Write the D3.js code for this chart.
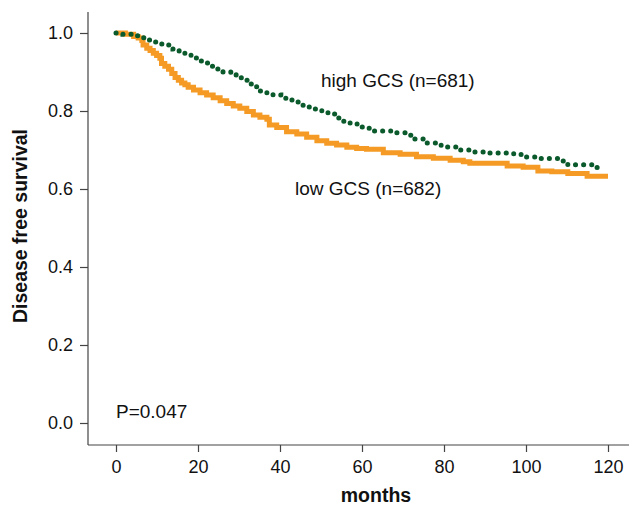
<!DOCTYPE html>
<html>
<head>
<meta charset="utf-8">
<script src="https://cdn.jsdelivr.net/npm/d3@7"></script>
<style>
  body { margin: 0; background: #fff; }
  svg text { font-family: "Liberation Sans", Arial, Helvetica, sans-serif; fill: #111; }
</style>
</head>
<body>
<svg id="chart"></svg>
<script>
// Kaplan-Meier step points (months, survival)
const highTimes = [0, 1.7, 3.9, 5.6, 7.3, 8.8, 10.7, 12.7, 13.9, 15.4, 16.8, 18.3, 19.8, 21.5, 22.9, 24.6, 26.1, 28, 29.3, 30.7, 32, 33.4, 35.1, 36.8, 38.3, 40.2, 42, 43.4, 45.1, 46.8, 48.5, 50.2, 51.7, 53.7, 55.4, 57.1, 58.8, 61.2, 62.9, 67, 71, 72, 75.9, 79.3, 82.9, 86.8, 91, 97, 98.8, 103, 109, 110.2, 116.3, 118.5];
const highSurv  = [1.0, 0.997, 0.993, 0.988, 0.982, 0.977, 0.972, 0.969, 0.959, 0.951, 0.944, 0.936, 0.928, 0.923, 0.915, 0.908, 0.9, 0.895, 0.885, 0.879, 0.869, 0.862, 0.851, 0.846, 0.841, 0.833, 0.828, 0.823, 0.815, 0.81, 0.805, 0.8, 0.792, 0.782, 0.774, 0.767, 0.759, 0.756, 0.749, 0.744, 0.738, 0.728, 0.718, 0.708, 0.7, 0.695, 0.692, 0.69, 0.682, 0.678, 0.672, 0.662, 0.655, 0.655];

const lowTimes = [0, 2.3, 4.3, 5.4, 6.3, 6.6, 7.5, 8.3, 9.1, 9.9, 10.7, 11.1, 11.9, 12.8, 13.6, 14.4, 15.2, 16, 16.8, 17.6, 18.9, 20.5, 22.1, 23.7, 25.4, 27, 28.6, 30.2, 31.9, 33.5, 35.1, 36.8, 37.4, 39.2, 41.6, 44.1, 46.5, 49, 51.4, 53.8, 56.3, 58.7, 61.1, 65.2, 69.3, 73.3, 77.4, 81.5, 84.7, 86.3, 95.4, 99.3, 102.9, 106.3, 110.2, 114.9, 120];
const lowSurv  = [1.0, 0.997, 0.991, 0.987, 0.981, 0.969, 0.961, 0.955, 0.948, 0.942, 0.935, 0.922, 0.915, 0.907, 0.896, 0.886, 0.879, 0.872, 0.867, 0.861, 0.854, 0.847, 0.841, 0.834, 0.826, 0.819, 0.813, 0.807, 0.799, 0.79, 0.784, 0.779, 0.764, 0.758, 0.747, 0.741, 0.733, 0.724, 0.717, 0.713, 0.707, 0.704, 0.702, 0.693, 0.689, 0.683, 0.679, 0.674, 0.67, 0.666, 0.659, 0.656, 0.646, 0.644, 0.64, 0.633, 0.633];

const xTicks = [0, 20, 40, 60, 80, 100, 120];
const yTicks = [0, 0.2, 0.4, 0.6, 0.8, 1.0];

const width = 629;
const height = 508;

const svg = d3.select('#chart')
  .attr('width', width)
  .attr('height', height);

// scales fitted to the reference tick positions
const x = d3.scaleLinear().domain([0, 120]).range([116, 608]);
const y = d3.scaleLinear().domain([0, 1]).range([423, 33]);

const axisLeftX = 88;
const axisBottomY = 445;

// axis lines (L-shaped box)
svg.append('line')
  .attr('x1', axisLeftX).attr('y1', 12)
  .attr('x2', axisLeftX).attr('y2', axisBottomY)
  .attr('stroke', '#444').attr('stroke-width', 1.2);
svg.append('line')
  .attr('x1', axisLeftX).attr('y1', axisBottomY)
  .attr('x2', 629).attr('y2', axisBottomY)
  .attr('stroke', '#444').attr('stroke-width', 1.2);

// y axis
const yAxis = d3.axisLeft(y)
  .tickValues(yTicks)
  .tickFormat(d3.format('.1f'))
  .tickSize(8)
  .tickPadding(7);
const gy = svg.append('g')
  .attr('transform', `translate(${axisLeftX},0)`)
  .call(yAxis);
gy.select('.domain').remove();

// x axis
const xAxis = d3.axisBottom(x)
  .tickValues(xTicks)
  .tickSize(7)
  .tickPadding(8);
const gx = svg.append('g')
  .attr('transform', `translate(0,${axisBottomY})`)
  .call(xAxis);
gx.select('.domain').remove();

svg.selectAll('.tick line').attr('stroke', '#444').attr('stroke-width', 1.2);
svg.selectAll('.tick text')
  .attr('font-size', 18)
  .attr('fill', '#111')
  .style('font-family', '"Liberation Sans", Arial, sans-serif');

// axis titles
svg.append('text')
  .attr('x', 376).attr('y', 502)
  .attr('text-anchor', 'middle')
  .attr('font-size', 19.5)
  .attr('font-weight', 'bold')
  .text('months');

svg.append('text')
  .attr('transform', 'translate(27,226) rotate(-90)')
  .attr('text-anchor', 'middle')
  .attr('font-size', 19.5)
  .attr('font-weight', 'bold')
  .text('Disease free survival');

// survival curves
const line = d3.line()
  .x(d => x(d[0]))
  .y(d => y(d[1]))
  .curve(d3.curveStepAfter);

const lowData = lowTimes.map((t, i) => [t, lowSurv[i]]);
const highData = highTimes.map((t, i) => [t, highSurv[i]]);

svg.append('path')
  .datum(lowData)
  .attr('d', line)
  .attr('fill', 'none')
  .attr('stroke', '#f49a25')
  .attr('stroke-width', 5);

svg.append('path')
  .datum(highData)
  .attr('d', line)
  .attr('fill', 'none')
  .attr('stroke', '#0b5a2c')
  .attr('stroke-width', 5)
  .attr('stroke-linecap', 'round')
  .attr('stroke-dasharray', '0.1 8');

// annotations
svg.append('text')
  .attr('x', 321).attr('y', 87)
  .attr('font-size', 19)
  .text('high GCS (n=681)');

svg.append('text')
  .attr('x', 295).attr('y', 195)
  .attr('font-size', 19)
  .text('low GCS (n=682)');

svg.append('text')
  .attr('x', 116).attr('y', 418)
  .attr('font-size', 19)
  .text('P=0.047');
</script>
</body>
</html>
